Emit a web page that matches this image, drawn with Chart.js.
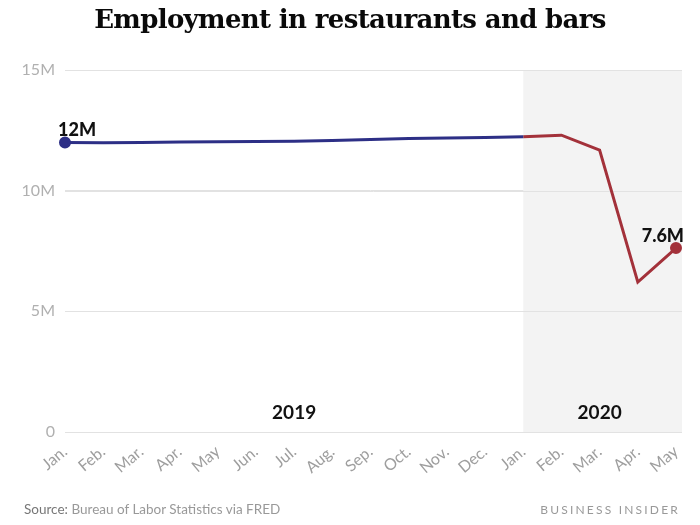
<!DOCTYPE html>
<html><head><meta charset="utf-8">
<script src="https://cdn.jsdelivr.net/npm/chart.js@4/dist/chart.umd.min.js"></script>
<style>
html,body{margin:0;padding:0;background:#fff;}
#wrap{position:relative;width:700px;height:525px;overflow:hidden;}
#title{position:absolute;left:0;top:4px;width:700px;text-align:center;font-family:"DejaVu Serif",serif;font-weight:bold;font-size:26px;color:#0a0a0a;letter-spacing:-0.65px;}
#src{position:absolute;left:24px;top:501px;font-family:Lato,"Open Sans",sans-serif;font-size:13.5px;color:#999;}
#src b{font-weight:normal;color:#777;}
#bi{position:absolute;right:20px;top:502px;font-family:Lato,"Open Sans",sans-serif;font-size:12px;color:#999;letter-spacing:2.2px;}
canvas{position:absolute;left:0;top:0;}
</style></head>
<body><div id="wrap">
<canvas id="c" width="700" height="525"></canvas>
<div id="title">Employment in restaurants and bars</div>
<div id="src"><b>Source:</b> Bureau of Labor Statistics via FRED</div>
<div id="bi">BUSINESS INSIDER</div>
</div>
<script>
const months = ["Jan.","Feb.","Mar.","Apr.","May","Jun.","Jul.","Aug.","Sep.","Oct.","Nov.","Dec.","Jan.","Feb.","Mar.","Apr.","May"];
const years = ["2019","2020"];
const employment2019 = [12.00,11.99,12.00,12.02,12.03,12.04,12.05,12.08,12.12,12.16,12.18,12.20,12.23];
const employment2020 = [12.23,12.30,11.68,6.21,7.62];
const yTicks = [0,5,10,15];
const startLabel = "12M";
const endLabel = "7.6M";

const n = months.length;
const blueData = months.map((m,i)=> i < employment2019.length ? employment2019[i] : null);
const redData = months.map((m,i)=> i >= 12 ? employment2020[i-12] : null);

const decor = {
  id:'decor',
  beforeDatasetsDraw(chart){
    const {ctx, chartArea:a, scales:{x,y}} = chart;
    ctx.save();
    const x0 = x.getPixelForValue(12);
    ctx.fillStyle = '#f3f3f3';
    ctx.fillRect(x0, a.top+1, a.right+6-x0, a.bottom-a.top-1);
    ctx.strokeStyle = '#e2e2e2'; ctx.lineWidth = 1;
    yTicks.forEach(v=>{
      const py = Math.round(y.getPixelForValue(v))+0.5;
      ctx.beginPath(); ctx.moveTo(a.left, py); ctx.lineTo(a.right+6, py); ctx.stroke();
    });
    ctx.fillStyle = '#111';
    ctx.font = 'bold 19px Lato, "Open Sans", sans-serif';
    ctx.textAlign = 'center'; ctx.textBaseline = 'middle';
    ctx.fillText(years[0], (x.getPixelForValue(0)+x0)/2, y.getPixelForValue(0.8));
    ctx.fillText(years[1], (x0 + a.right)/2, y.getPixelForValue(0.8));
    ctx.restore();
  },
  afterDatasetsDraw(chart){
    const {ctx, scales:{x,y}} = chart;
    ctx.save();
    ctx.fillStyle = '#111';
    ctx.font = '900 18px Lato, "Open Sans", sans-serif';
    ctx.textBaseline = 'alphabetic';
    ctx.textAlign = 'left';
    ctx.fillText(startLabel, x.getPixelForValue(0)-7, y.getPixelForValue(employment2019[0])-6);
    ctx.textAlign = 'right';
    ctx.fillText(endLabel, x.getPixelForValue(n-1)+8, y.getPixelForValue(employment2020[4])-6);
    ctx.restore();
  }
};

new Chart(document.getElementById('c'), {
  type:'line',
  data:{labels:months, datasets:[
    {data:blueData, borderColor:'#2d2f86', backgroundColor:'#2d2f86', borderWidth:3,
     pointRadius:months.map((m,i)=>i===0?4.5:0), pointHoverRadius:0, tension:0, spanGaps:false},
    {data:redData, borderColor:'#a3313a', backgroundColor:'#a3313a', borderWidth:3,
     pointRadius:months.map((m,i)=>i===n-1?4.5:0), pointHoverRadius:0, tension:0, spanGaps:false}
  ]},
  plugins:[decor],
  options:{
    responsive:false, animation:false, events:[],
    layout:{padding:{top:70,right:24,left:0,bottom:0}},
    plugins:{legend:{display:false}, tooltip:{enabled:false}, title:{display:false}},
    scales:{
      x:{type:'category', offset:false,
         grid:{display:false}, border:{display:false},
         ticks:{color:'#9e9e9e', font:{family:'Lato, "Open Sans", sans-serif', size:16}, minRotation:40, maxRotation:40, autoSkip:false, padding:2},
         afterFit(s){ s.height = 93; }
      },
      y:{min:0, max:15,
         afterBuildTicks(s){ s.ticks = yTicks.map(v=>({value:v})); },
         grid:{color:'#e2e2e2', drawTicks:false}, border:{display:false},
         ticks:{color:'#b0b0b0', font:{family:'Lato, "Open Sans", sans-serif', size:16}, padding:10,
                callback:v=> v===0 ? '0' : v+'M'},
         afterFit(s){ s.width = 65; }
      }
    }
  }
});
</script>
</body></html>
